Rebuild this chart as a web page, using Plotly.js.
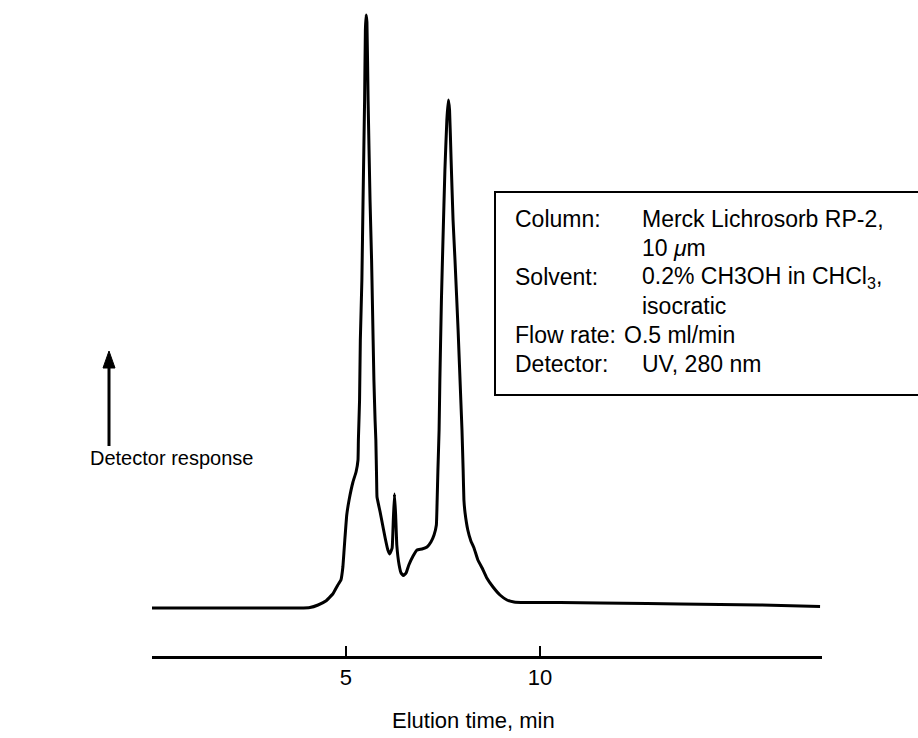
<!DOCTYPE html>
<html>
<head>
<meta charset="utf-8">
<script src="https://cdn.plot.ly/plotly-3.0.1.min.js"></script>
<style>html,body{margin:0;padding:0;background:#fff;}#chart{width:918px;height:738px;}</style>
</head>
<body>
<div id="chart"></div>
<script>
// Elution time (min)
var elutionTime = [0.00, 1.24, 2.96, 3.81, 4.07, 4.28, 4.48, 4.66, 4.79, 4.87, 4.92, 4.97, 5.02, 5.08, 5.18, 5.26, 5.31, 5.32, 5.35, 5.37, 5.41, 5.44, 5.48, 5.50, 5.52,
  5.54, 5.57, 5.62, 5.66, 5.68, 5.72, 5.75, 5.77, 5.79, 5.80, 5.88, 5.93, 6.01, 6.08, 6.13, 6.19, 6.22, 6.25, 6.28, 6.31, 6.37, 6.42, 6.48, 6.55, 6.62, 6.73, 6.83, 6.96, 7.09, 7.19, 7.27, 7.33,
  7.35, 7.37, 7.40, 7.42, 7.46, 7.50, 7.55, 7.60, 7.64,
  7.67, 7.71, 7.76, 7.81, 7.89, 7.96, 7.99, 8.02, 8.04, 8.07, 8.14, 8.22, 8.30, 8.40, 8.51, 8.63, 8.79, 8.97, 9.15, 9.33, 9.61, 10.52, 11.55, 12.76, 13.61, 14.64, 15.67, 17.22];
// Detector response (arbitrary units)
var response = [0.00, 0.00, 0.00, 0.00, 0.05, 0.30, 0.70, 1.40, 2.30, 2.80, 4.10, 6.80, 9.30, 10.80, 12.60, 13.60, 14.80, 16.80, 20.80, 26.80, 32.80, 40.80, 50.80, 57.80, 59.30,
  58.60, 50.80, 40.80, 34.80, 30.80, 22.80, 18.80, 16.80, 12.80, 11.10, 9.60, 8.60, 7.00, 5.80, 5.40, 6.00, 8.80, 11.40, 9.30, 6.30, 4.30, 3.50, 3.25, 3.50, 4.30, 5.20, 5.80, 5.90, 6.10, 6.60, 7.30, 8.30,
  10.80, 13.80, 17.80, 22.80, 30.80, 36.80, 43.80, 48.80, 50.80,
  49.80, 44.80, 38.80, 34.80, 27.80, 20.80, 17.80, 13.80, 10.80, 9.50, 7.80, 6.70, 6.00, 4.80, 4.00, 3.00, 2.10, 1.30, 0.80, 0.60, 0.55, 0.55, 0.50, 0.45, 0.40, 0.35, 0.30, 0.15];
var tickValues = [5, 10];
var tickLabels = ["5", "10"];
var xTitle = "Elution time, min";
var yLabel = "Detector response";
var infoLabels = ["Column:", "", "Solvent:", "", "Flow rate:", "Detector:"];
var infoValues = ["Merck Lichrosorb RP-2,", "10 <i>\u03bc</i>m", "0.2% CH3OH in CHCl<sub>3</sub>,", "isocratic", "O.5 ml/min", "UV, 280 nm"];

var W = 918, H = 738;
function px(x) { return x / W; }
function py(y) { return 1 - y / H; }
var font = "Liberation Sans, Arial, Helvetica, sans-serif";

var trace = {
  x: elutionTime, y: response, type: "scatter", mode: "lines",
  line: {color: "#000", width: 3, shape: "spline", smoothing: 0.3},
  hoverinfo: "skip"
};

var annotations = [
  {xref: "paper", yref: "paper", x: px(473), y: py(720), text: xTitle, showarrow: false,
   xanchor: "center", yanchor: "middle", font: {family: font, size: 22, color: "#000"}},
  {xref: "paper", yref: "paper", x: px(88), y: py(458), text: yLabel, showarrow: false,
   xanchor: "left", yanchor: "middle", font: {family: font, size: 20, color: "#000"}}
];
var lineY0 = 219, lineStep = 29;
for (var i = 0; i < infoValues.length; i++) {
  var yy = py(lineY0 + i * lineStep);
  if (infoLabels[i]) {
    annotations.push({xref: "paper", yref: "paper", x: px(513), y: yy, text: infoLabels[i], showarrow: false,
      xanchor: "left", yanchor: "middle", font: {family: font, size: 23, color: "#000"}});
  }
  annotations.push({xref: "paper", yref: "paper", x: px(infoLabels[i] === "Flow rate:" ? 622 : 640), y: yy, text: infoValues[i], showarrow: false,
    xanchor: "left", yanchor: "middle", font: {family: font, size: 23, color: "#000"}});
}

// upward arrow next to the response label (shaft + head)
var arrowX = 109, arrowTip = 351, arrowTail = 446;
var headPath = "M " + px(arrowX) + " " + py(arrowTip) +
  " L " + px(arrowX - 6) + " " + py(arrowTip + 17) +
  " L " + px(arrowX + 6) + " " + py(arrowTip + 17) + " Z";

var layout = {
  width: W, height: H,
  margin: {l: 0, r: 0, t: 0, b: 0},
  paper_bgcolor: "#fff", plot_bgcolor: "#fff",
  showlegend: false,
  font: {family: font, color: "#000", size: 21},
  xaxis: {
    domain: [px(152), px(822)],
    range: [0, 17.27],
    showline: true, linecolor: "#000", linewidth: 2.5,
    ticks: "inside", ticklen: 10, tickwidth: 2, tickcolor: "#000",
    tickvals: tickValues, ticktext: tickLabels,
    tickfont: {family: font, size: 22, color: "#000"},
    showgrid: false, zeroline: false, fixedrange: true
  },
  yaxis: {
    domain: [py(656), 1],
    range: [-4.8, 60.8],
    visible: false, showgrid: false, zeroline: false, fixedrange: true
  },
  shapes: [
    {type: "rect", xref: "paper", yref: "paper", x0: px(495), x1: px(930), y0: py(395), y1: py(192),
     line: {color: "#000", width: 2}, fillcolor: "rgba(0,0,0,0)"},
    {type: "line", xref: "paper", yref: "paper", x0: px(arrowX), x1: px(arrowX), y0: py(arrowTail), y1: py(arrowTip + 12),
     line: {color: "#000", width: 3}},
    {type: "path", xref: "paper", yref: "paper", path: headPath,
     line: {color: "#000", width: 1}, fillcolor: "#000"}
  ],
  annotations: annotations
};

Plotly.newPlot("chart", [trace], layout, {displayModeBar: false, staticPlot: true});
</script>
</body>
</html>
